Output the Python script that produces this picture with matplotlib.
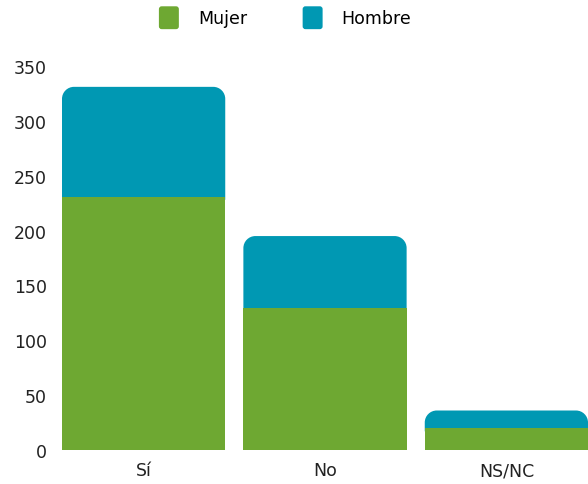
import matplotlib
matplotlib.use("Agg")
import matplotlib.pyplot as plt
from matplotlib.path import Path
from matplotlib.patches import PathPatch, FancyBboxPatch, Patch
from matplotlib.legend_handler import HandlerPatch

categories = ["Sí", "No", "NS/NC"]
mujer = [231, 129, 20]
hombre = [100, 66, 16]
series_names = ["Mujer", "Hombre"]
colors = ["#6EA832", "#0098B3"]
yticks = [0, 50, 100, 150, 200, 250, 300, 350]

plt.rcParams["font.family"] = ["DejaVu Sans"]

W, H, DPI = 588, 485, 100
fig = plt.figure(figsize=(W / DPI, H / DPI), dpi=DPI)
ax = fig.add_axes([62 / W, 1 - 451 / H, 1 - 62 / W, (451 - 67) / H])

bar_w = 0.9
xlim = (-0.45, 2.45)
ylim = (0, 350)
ax.set_xlim(*xlim)
ax.set_ylim(*ylim)

# axes size in pixels, to convert a pixel corner radius to data units
ax_w_px = W * (1 - 62 / W)
ax_h_px = 451 - 67
r_px = 12
rx = r_px * (xlim[1] - xlim[0]) / ax_w_px
ry = r_px * (ylim[1] - ylim[0]) / ax_h_px


def rounded_top(x0, x1, y0, y1, rx, ry):
    k = 0.5523
    ryy = min(ry, y1 - y0)
    verts = [
        (x0, y0), (x0, y1 - ryy),
        (x0, y1 - ryy + k * ryy), (x0 + rx - k * rx, y1), (x0 + rx, y1),
        (x1 - rx, y1),
        (x1 - rx + k * rx, y1), (x1, y1 - ryy + k * ryy), (x1, y1 - ryy),
        (x1, y0), (x0, y0),
    ]
    codes = [Path.MOVETO, Path.LINETO,
             Path.CURVE4, Path.CURVE4, Path.CURVE4,
             Path.LINETO,
             Path.CURVE4, Path.CURVE4, Path.CURVE4,
             Path.LINETO, Path.CLOSEPOLY]
    return Path(verts, codes)


xs = range(len(categories))
# teal segment runs down behind the green one so no seam shows between them
for x, m, h in zip(xs, mujer, hombre):
    p = rounded_top(x - bar_w / 2, x + bar_w / 2, m - 3, m + h, rx, ry)
    ax.add_patch(PathPatch(p, facecolor=colors[1], edgecolor="none", zorder=1))
ax.bar(xs, mujer, width=bar_w, color=colors[0], linewidth=0, zorder=2)

for s in ax.spines.values():
    s.set_visible(False)
ax.set_xticks(list(xs))
ax.set_xticklabels(categories)
ax.set_yticks(yticks)
ax.tick_params(axis="both", length=0, labelsize=12.5, colors="#222222")
ax.tick_params(axis="y", pad=11)
ax.tick_params(axis="x", pad=8)


class RoundHandler(HandlerPatch):
    def create_artists(self, legend, orig_handle, xdescent, ydescent,
                       width, height, fontsize, trans):
        p = FancyBboxPatch((-xdescent, -ydescent), width, height,
                           boxstyle="round,pad=0,rounding_size=2",
                           facecolor=orig_handle.get_facecolor(),
                           edgecolor="none", transform=trans)
        return [p]


handles = [Patch(facecolor=c, label=n) for c, n in zip(colors, series_names)]
fig.legend(handles=handles, loc="upper center", bbox_to_anchor=(0.485, 1.0),
           ncol=2, frameon=False, fontsize=12.5, handlelength=1.15,
           handleheight=1.65, handletextpad=1.1, columnspacing=3.2,
           borderaxespad=0.0, borderpad=0.42,
           handler_map={Patch: RoundHandler()})

fig.savefig("out.png", dpi=DPI)
